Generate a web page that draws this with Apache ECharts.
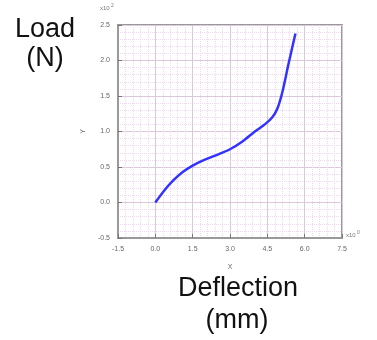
<!DOCTYPE html>
<html>
<head>
<meta charset="utf-8">
<script src="https://cdn.jsdelivr.net/npm/echarts@6/dist/echarts.min.js"></script>
<style>
  html, body { margin: 0; padding: 0; background: #fff; }
  #chart { width: 377px; height: 340px; }
</style>
</head>
<body>
<div id="chart"></div>
<script>
// Deflection (x10^0 mm) and load (x10^2 N) samples along the curve
const deflection = [0, 0.36, 0.72, 1.1, 1.5, 1.9, 2.4, 3.0, 3.5, 4.0, 4.4, 4.7, 4.9, 5.1, 5.35, 5.63];
const load       = [0, 0.17, 0.31, 0.43, 0.52, 0.59, 0.66, 0.75, 0.86, 1.00, 1.10, 1.20, 1.32, 1.55, 1.95, 2.38];

const xTicks = { min: -1.5, max: 7.5, step: 1.5 };
const yTicks = { min: -0.5, max: 2.5, step: 0.5 };

const points = deflection.map((d, i) => [d, load[i]]);

const small = { fontFamily: 'Liberation Sans, Arial, sans-serif', fontSize: 7, color: '#666' };
const big = { fontFamily: 'Liberation Sans, Arial, sans-serif', fontSize: 27, fill: '#111' };

const chart = echarts.init(document.getElementById('chart'), null, { renderer: 'canvas' });

function axisCommon() {
  return {
    type: 'value',
    axisLine: { show: true, onZero: false, lineStyle: { color: '#999', width: 2 } },
    axisTick: { show: true, inside: true, length: 4, lineStyle: { color: '#777' } },
    axisLabel: Object.assign({ formatter: v => v.toFixed(1) }, small),
    splitLine: { show: true, lineStyle: { color: '#dcc8dc', width: 1 } },
    minorTick: { show: false, splitNumber: 5 },
    minorSplitLine: { show: true, lineStyle: { color: '#f0d8f0', width: 1, type: 'dotted' } },
    nameTextStyle: small
  };
}

chart.setOption({
  animation: false,
  backgroundColor: '#fff',
  grid: {
    left: 118, right: 35, top: 25, bottom: 102,
    show: true, borderColor: '#999', borderWidth: 2
  },
  xAxis: Object.assign(axisCommon(), {
    min: xTicks.min, max: xTicks.max, interval: xTicks.step,
    name: 'X', nameLocation: 'middle', nameGap: 26
  }),
  yAxis: Object.assign(axisCommon(), {
    min: yTicks.min, max: yTicks.max, interval: yTicks.step,
    name: 'Y', nameLocation: 'middle', nameGap: 17, nameRotate: 90
  }),
  graphic: [
    { type: 'text', left: 100, top: 5, style: { text: 'x10', fontSize: 6, fill: '#777', fontFamily: 'Liberation Sans, Arial' } },
    { type: 'text', left: 111, top: 3, style: { text: '2', fontSize: 5, fill: '#777', fontFamily: 'Liberation Sans, Arial' } },
    { type: 'text', left: 346, top: 232, style: { text: 'x10', fontSize: 6, fill: '#777', fontFamily: 'Liberation Sans, Arial' } },
    { type: 'text', left: 357, top: 230, style: { text: '0', fontSize: 5, fill: '#777', fontFamily: 'Liberation Sans, Arial' } },
    { type: 'text', x: 45, y: 30, style: Object.assign({ text: 'Load', align: 'center', verticalAlign: 'middle' }, big) },
    { type: 'text', x: 45, y: 59, style: Object.assign({ text: '(N)', align: 'center', verticalAlign: 'middle' }, big) },
    { type: 'text', x: 238, y: 289, style: Object.assign({ text: 'Deflection', align: 'center', verticalAlign: 'middle' }, big) },
    { type: 'text', x: 237, y: 321, style: Object.assign({ text: '(mm)', align: 'center', verticalAlign: 'middle' }, big) }
  ],
  series: [{
    type: 'line',
    data: points,
    smooth: 0.3,
    symbol: 'none',
    lineStyle: { color: '#3333ff', width: 2.5 }
  }]
});
</script>
</body>
</html>
